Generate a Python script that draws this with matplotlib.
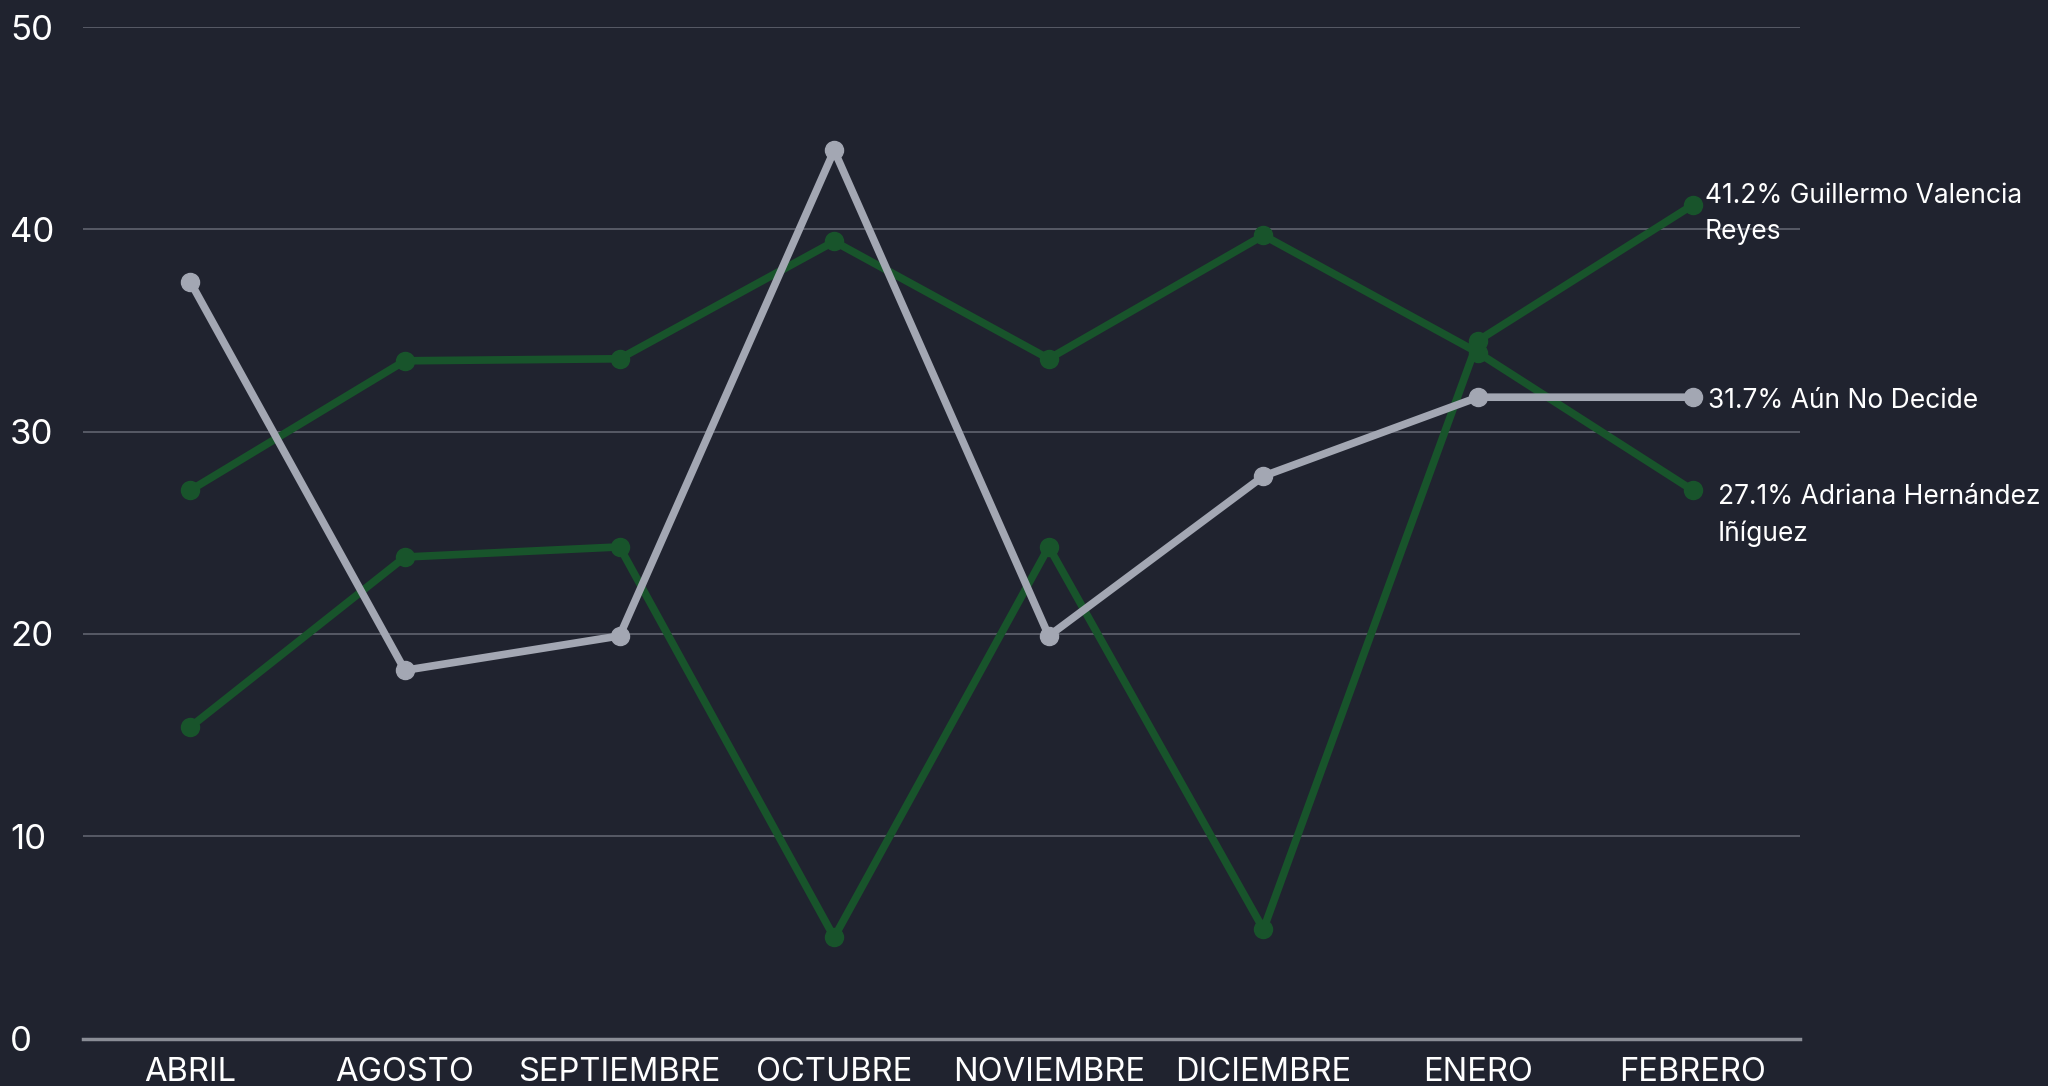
import matplotlib
matplotlib.use("Agg")
import matplotlib.pyplot as plt

months = ["ABRIL", "AGOSTO", "SEPTIEMBRE", "OCTUBRE", "NOVIEMBRE", "DICIEMBRE", "ENERO", "FEBRERO"]
adriana = [27.1, 33.5, 33.6, 39.4, 33.6, 39.7, 33.9, 27.1]
guillermo = [15.4, 23.8, 24.3, 5.0, 24.3, 5.4, 34.5, 41.2]
no_decide = [37.4, 18.2, 19.9, 43.9, 19.9, 27.8, 31.7, 31.7]
y_ticks = [0, 10, 20, 30, 40, 50]

labels = [
    ("41.2% Guillermo Valencia\nReyes", guillermo),
    ("31.7% Aún No Decide", no_decide),
    ("27.1% Adriana Hernández\nIñíguez", adriana),
]

BG = "#20232f"
GREEN = "#18542b"
GRAY = "#a3a7b3"
GRID = "#575a66"

plt.rcParams['font.family'] = ['Inter', 'DejaVu Sans']

fig = plt.figure(figsize=(20.48, 10.86), dpi=100, facecolor=BG)
ax = fig.add_axes([83 / 2048, 1 - 1038.5 / 1086, (1800 - 83) / 2048, (1038.5 - 27) / 1086])
ax.set_facecolor(BG)

x = list(range(len(months)))
ax.plot(x, adriana, color=GREEN, lw=5.5, marker='o', ms=13, zorder=3, solid_capstyle='round')
ax.plot(x, guillermo, color=GREEN, lw=5.5, marker='o', ms=13, zorder=3, solid_capstyle='round')
ax.plot(x, no_decide, color=GRAY, lw=5.5, marker='o', ms=13, zorder=4, solid_capstyle='round')

ax.set_xlim(-0.5, len(months) - 0.5)
ax.set_ylim(0, 50)
ax.set_yticks(y_ticks)
ax.set_xticks(x)
ax.set_xticklabels(months)
ax.grid(axis='y', color=GRID, lw=1.4)
ax.grid(axis='x', visible=False)
ax.set_axisbelow(True)
for s in ['top', 'right', 'left']:
    ax.spines[s].set_visible(False)
ax.spines['bottom'].set_color("#8a8d96")
ax.spines['bottom'].set_linewidth(2.5)
ax.tick_params(axis='both', length=0, colors='white')
ax.tick_params(axis='y', labelsize=25)
ax.tick_params(axis='x', labelsize=23.5, pad=13)
for t in ax.get_yticklabels():
    t.set_horizontalalignment('left')
    t.set_x(-83 / 1717 + 10 / 1717)
ax.yaxis.set_tick_params(pad=0)

offsets = [(12, 22, 'top'), (15, -4, 'center'), (25, 6, 'top')]
for (txt, series), (dx, dy, va) in zip(labels, offsets):
    ax.annotate(txt, xy=(x[-1], series[-1]), xytext=(dx, dy), textcoords='offset pixels',
                color='white', fontsize=19, va=va, ha='left', linespacing=1.5,
                annotation_clip=False)

fig.savefig("out.png", dpi=100, facecolor=BG)
